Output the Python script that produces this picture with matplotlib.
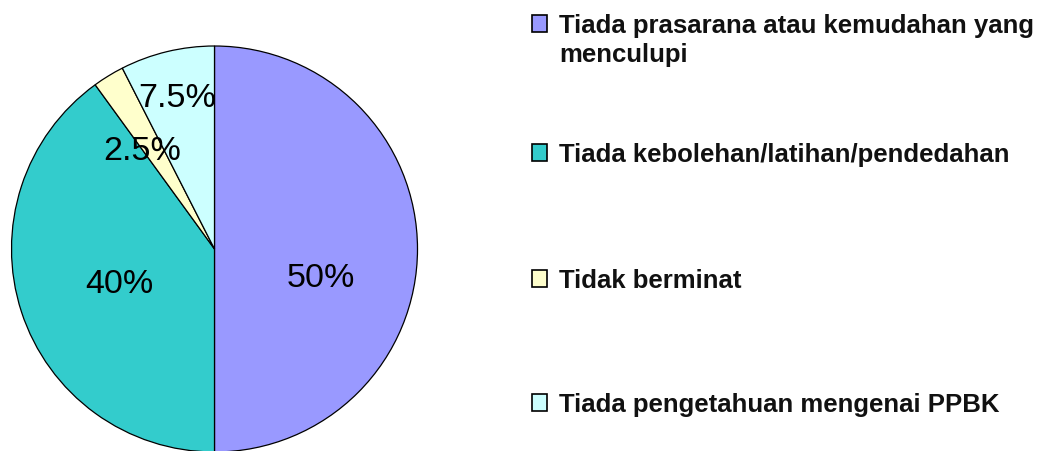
import matplotlib
matplotlib.use("Agg")
import matplotlib.pyplot as plt
from matplotlib.patches import Rectangle

# data
labels = [
    "Tiada prasarana atau kemudahan yang\nmenculupi",
    "Tiada kebolehan/latihan/pendedahan",
    "Tidak berminat",
    "Tiada pengetahuan mengenai PPBK",
]
values = [50, 40, 2.5, 7.5]
colors = ["#9999FF", "#33CCCC", "#FFFFCC", "#CCFFFF"]

# label spots inside the pie (Excel moved them by hand)
pct_pos = [(0.526, -0.183), (-0.467, -0.212), (-0.358, 0.444), (-0.185, 0.706)]

W, H = 1062, 452
fig = plt.figure(figsize=(W / 100, H / 100), dpi=100)

# pie axes, circle center ~ (214, 250) px, radius ~203 px
cx, cy, r = 214.5, 250, 203
ax = fig.add_axes([(cx - r) / W, 1 - (cy + r) / H, 2 * r / W, 2 * r / H])
wedges, texts, autotexts = ax.pie(
    values,
    colors=colors,
    startangle=90,
    counterclock=False,
    autopct=lambda p: f"{p:g}%",
    wedgeprops=dict(edgecolor="black", linewidth=0.9),
    textprops=dict(fontsize=24.5, family="Liberation Sans", color="black"),
)
for t, (x, y) in zip(autotexts, pct_pos):
    t.set_position((x, y))
    t.set_ha("center")
    t.set_va("baseline")
ax.set_xlim(-1, 1)
ax.set_ylim(-1, 1)
ax.axis("off")

# legend, drawn by hand to keep Excel's loose spacing
rows_baseline = [33, 162, 288, 412]
line_gap = 29
for lab, col, yb in zip(labels, colors, rows_baseline):
    fig.patches.append(
        Rectangle((532 / W, 1 - yb / H), 15 / W, 17 / H,
                  transform=fig.transFigure, facecolor=col,
                  edgecolor="black", linewidth=1.2)
    )
    for k, line in enumerate(lab.split("\n")):
        fig.text(559 / W, 1 - (yb + k * line_gap) / H, line, ha="left",
                 va="baseline", fontsize=18.5, family="Liberation Sans",
                 fontweight="bold", color="#111111")

fig.savefig("out.png", dpi=100, facecolor="white")
